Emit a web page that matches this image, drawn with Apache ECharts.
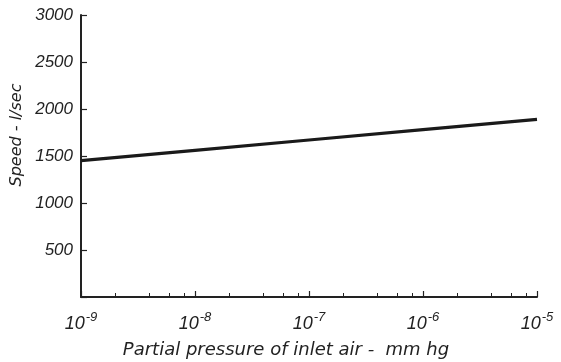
<!DOCTYPE html>
<html>
<head>
<meta charset="utf-8">
<script src="https://cdn.jsdelivr.net/npm/echarts@6/dist/echarts.min.js"></script>
<style>
  html, body { margin: 0; padding: 0; background: #ffffff; }
  #chart { width: 561px; height: 362px; }
</style>
</head>
<body>
<div id="chart"></div>
<script>
// Pumping speed versus partial pressure of the inlet air
const pressures = [1e-9, 1e-8, 1e-7, 1e-6, 1e-5];           // mm hg
const speeds = [1450, 1560, 1670, 1780, 1890];               // l/sec
const xExponents = ['-9', '-8', '-7', '-6', '-5'];           // decade tick labels 10^n
const xMinorTicks = [2e-9, 4e-9, 6e-9, 8e-9, 2e-8, 4e-8, 6e-8, 8e-8,
                     2e-7, 4e-7, 6e-7, 8e-7, 2e-6, 4e-6, 6e-6, 8e-6];
const yTicks = [0, 500, 1000, 1500, 2000, 2500, 3000];
const yName = 'Speed - l/sec';
const xName = 'Partial pressure of inlet air -  mm hg';

const ink = '#222222';
const font = '"Liberation Sans", Arial, sans-serif';
const nameFont = '"DejaVu Sans", Verdana, sans-serif';

const chart = echarts.init(document.getElementById('chart'), null, { renderer: 'canvas' });

chart.setOption({
  animation: false,
  backgroundColor: '#ffffff',
  grid: { left: 81, right: 24, top: 15, bottom: 65, containLabel: false },
  xAxis: [
    {
      type: 'log',
      logBase: 10,
      min: pressures[0],
      max: pressures[pressures.length - 1],
      axisLine: { show: true, lineStyle: { color: ink, width: 2 } },
      axisTick: { show: true, inside: true, length: 6, lineStyle: { color: ink, width: 1.2 },
                  customValues: pressures },
      splitLine: { show: false },
      axisLabel: {
        margin: 14,
        customValues: pressures,
        formatter: function (v) {
          const i = pressures.findIndex(p => Math.abs(p - v) / p < 1e-6);
          return i < 0 ? '' : '{b|10}{s|' + xExponents[i] + '}';
        },
        rich: {
          b: { fontFamily: font, fontStyle: 'italic', fontSize: 18, color: ink, verticalAlign: 'bottom', lineHeight: 22 },
          s: { fontFamily: font, fontStyle: 'italic', fontSize: 13, color: ink, verticalAlign: 'top', lineHeight: 22, padding: [0, 0, 8, 1] }
        }
      }
    },
    {
      type: 'log',
      logBase: 10,
      min: pressures[0],
      max: pressures[pressures.length - 1],
      position: 'bottom',
      axisLine: { show: false },
      axisLabel: { show: false },
      splitLine: { show: false },
      axisTick: { show: true, inside: true, length: 4, lineStyle: { color: ink, width: 1 },
                  customValues: xMinorTicks }
    }
  ],
  yAxis: {
    type: 'value',
    min: yTicks[0],
    max: yTicks[yTicks.length - 1],
    interval: 500,
    axisLine: { show: true, lineStyle: { color: ink, width: 2 } },
    axisTick: { show: true, inside: true, length: 6, lineStyle: { color: ink, width: 1.2 } },
    splitLine: { show: false },
    axisLabel: {
      margin: 8,
      fontFamily: font,
      fontStyle: 'italic',
      fontSize: 17,
      color: ink,
      formatter: v => (v === 0 ? '' : String(v))
    }
  },
  series: [{
    type: 'line',
    xAxisIndex: 0,
    data: pressures.map((p, i) => [p, speeds[i]]),
    showSymbol: false,
    lineStyle: { color: '#1a1a1a', width: 3.2 },
    silent: true
  }],
  graphic: [
    {
      type: 'text',
      x: 17, y: 135,
      rotation: Math.PI / 2,
      style: {
        text: yName, fontFamily: nameFont, fontStyle: 'italic', fontSize: 16, fill: ink,
        align: 'center', verticalAlign: 'middle'
      }
    },
    {
      type: 'text',
      x: 286, y: 350,
      style: {
        text: xName, fontFamily: nameFont, fontStyle: 'italic', fontSize: 18, fill: ink,
        align: 'center', verticalAlign: 'middle'
      }
    }
  ]
});
</script>
</body>
</html>
